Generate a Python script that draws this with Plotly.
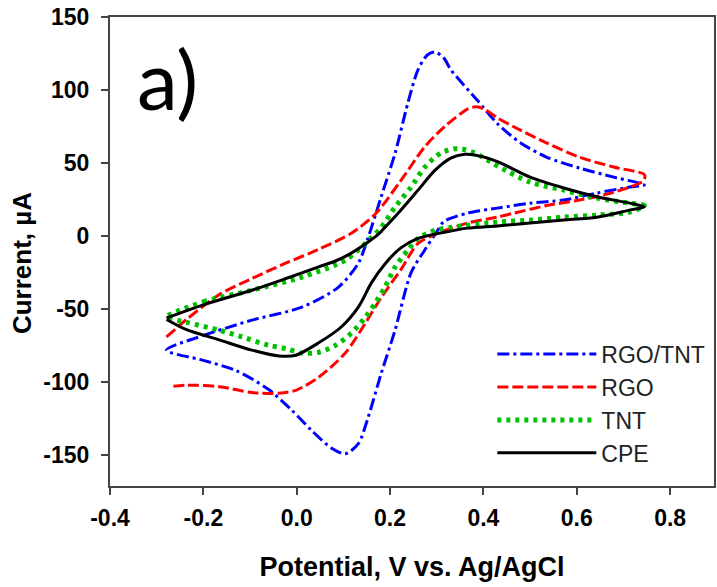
import plotly.graph_objects as go

# ---- data ----
rgo_tnt_v = [-0.279, -0.2, -0.096, 0.011, 0.089, 0.132, 0.153, 0.181, 0.211, 0.238, 0.26, 0.28, 0.296, 0.315, 0.33, 0.387, 0.43, 0.479, 0.536, 0.606, 0.679, 0.745,
             0.713, 0.643, 0.572, 0.5, 0.43, 0.366, 0.315, 0.302, 0.274, 0.245, 0.211, 0.181, 0.153, 0.132, 0.104, 0.074, 0.032, -0.011, -0.06, -0.13, -0.2, -0.279]
rgo_tnt_i = [-78, -68, -57.5, -48.6, -35, -18.5, -1, 27, 57, 91, 114, 124, 126, 122, 114, 93, 77, 64, 54, 46.6, 40.4, 35,
             33.6, 29.5, 24.7, 22.6, 19.2, 15.8, 10, 4, -9.6, -25, -64, -94, -124, -142, -149, -145, -133, -119, -105, -92, -85, -78]

rgo_v = [-0.279, -0.236, -0.166, -0.096, -0.02, 0.047, 0.117, 0.168, 0.223, 0.274, 0.317, 0.366, 0.385, 0.402, 0.43, 0.466, 0.536, 0.606, 0.679, 0.745,
         0.743, 0.679, 0.606, 0.536, 0.466, 0.43, 0.366, 0.302, 0.26, 0.223, 0.181, 0.147, 0.104, 0.047, -0.002, -0.038, -0.096, -0.166, -0.236, -0.27]
rgo_i = [-69, -57, -40, -29, -18, -9, 2, 15, 38, 61, 75, 87, 88.5, 87, 81, 74.7, 63.7, 54, 47.3, 42,
         38, 30, 24.7, 21, 15.8, 13, 9, 2, -5, -23, -42, -59.6, -80, -96.6, -105.5, -107.5, -107, -103, -102, -103]

tnt_v = [-0.279, -0.2, -0.096, 0.011, 0.104, 0.16, 0.181, 0.211, 0.245, 0.274, 0.309, 0.345, 0.381, 0.415, 0.436, 0.5, 0.572, 0.643, 0.713, 0.745,
         0.713, 0.643, 0.572, 0.5, 0.43, 0.33, 0.296, 0.26, 0.238, 0.211, 0.189, 0.168, 0.147, 0.117, 0.083, 0.047, 0.011, -0.023, -0.06, -0.117, -0.166, -0.236, -0.279]
tnt_i = [-55.5, -45, -37, -28, -16.4, -1, 6, 20, 33.6, 47, 57, 60, 57, 51, 47, 37, 31.5, 26, 22.6, 21,
         16.4, 14.4, 13, 11, 9.6, 6, 4, -1.5, -9.6, -21, -35, -46, -55.5, -66.4, -74.7, -79.5, -80, -77, -74.7, -69, -64.4, -59, -55.5]

cpe_v = [-0.279, -0.2, -0.096, -0.023, 0.047, 0.083, 0.117, 0.153, 0.174, 0.189, 0.223, 0.26, 0.296, 0.33, 0.36, 0.381, 0.43, 0.5, 0.572, 0.643, 0.713, 0.745,
         0.713, 0.643, 0.572, 0.5, 0.43, 0.366, 0.317, 0.26, 0.223, 0.189, 0.16, 0.132, 0.096, 0.047, -0.002, -0.038, -0.096, -0.166, -0.236, -0.279]
cpe_i = [-56, -47, -37, -29, -21, -17, -11.6, -4, 1, 6, 17.8, 31.5, 45, 53.4, 56, 55.5, 51, 40.4, 33, 27, 22.6, 20,
         17.8, 13, 11, 9, 7, 5.5, 2.7, -1.5, -8, -19, -32, -48.6, -62, -73, -81.5, -82, -78, -71, -64, -57]

x_ticks = [-0.4, -0.2, 0.0, 0.2, 0.4, 0.6, 0.8]
x_tick_labels = ["-0.4", "-0.2", "0.0", "0.2", "0.4", "0.6", "0.8"]
y_ticks = [-150, -100, -50, 0, 50, 100, 150]
y_tick_labels = ["-150", "-100", "-50", "0", "50", "100", "150"]

FONT = "Liberation Sans, Arial, sans-serif"

fig = go.Figure()
fig.add_trace(go.Scatter(x=rgo_tnt_v, y=rgo_tnt_i, mode="lines", name="RGO/TNT",
                         line=dict(color="#0000ff", width=3, dash="12px,4px,3px,4px", shape="spline", smoothing=0.8)))
fig.add_trace(go.Scatter(x=rgo_v, y=rgo_i, mode="lines", name="RGO",
                         line=dict(color="#ff0000", width=3, dash="11px,4px", shape="spline", smoothing=0.8)))
fig.add_trace(go.Scatter(x=tnt_v, y=tnt_i, mode="lines", name="TNT",
                         line=dict(color="#00c000", width=5, dash="4px,5px", shape="spline", smoothing=0.8)))
fig.add_trace(go.Scatter(x=cpe_v, y=cpe_i, mode="lines", name="CPE",
                         line=dict(color="#000000", width=3, shape="spline", smoothing=0.8)))

fig.add_annotation(text="a)", xref="paper", yref="paper", x=0.096, y=0.87,
                   xanchor="center", yanchor="middle", showarrow=False,
                   font=dict(family="Lato, Open Sans, sans-serif", size=82, color="#000000"))

# y-axis title placed as rotated text centred where the reference has it
fig.add_annotation(text="Current, µA", xref="paper", yref="paper", x=-0.146, y=0.475,
                   xanchor="center", yanchor="middle", showarrow=False, textangle=-90,
                   font=dict(family=FONT, size=26, color="#000000", weight="bold"))

fig.update_layout(
    width=717, height=587,
    margin=dict(l=110, r=1, t=17, b=101),
    paper_bgcolor="white", plot_bgcolor="white",
    showlegend=True,
    legend=dict(x=0.633, y=0.327, xanchor="left", yanchor="top",
                bgcolor="rgba(0,0,0,0)", borderwidth=0, itemwidth=99,
                font=dict(family=FONT, size=23, color="#222222"), tracegroupgap=0),
    xaxis=dict(range=[-0.4, 0.894], tickvals=x_ticks, ticktext=x_tick_labels,
               showgrid=False, zeroline=False, showline=True, linecolor="#444444", linewidth=2,
               mirror=True, ticks="outside", ticklen=7, tickwidth=2, tickcolor="#444444",
               ticklabelstandoff=3,
               tickfont=dict(family=FONT, size=23, color="#000000", weight="bold"),
               title=dict(text="Potential, V vs. Ag/AgCl", standoff=28,
                          font=dict(family=FONT, size=27, color="#000000", weight="bold"))),
    yaxis=dict(range=[-171, 150], tickvals=y_ticks, ticktext=y_tick_labels,
               showgrid=False, zeroline=False, showline=True, linecolor="#444444", linewidth=2,
               mirror=True, ticks="outside", ticklen=7, tickwidth=2, tickcolor="#444444",
               ticklabelstandoff=7,
               tickfont=dict(family=FONT, size=23, color="#000000", weight="bold")),
)

fig.write_html("out.html")
